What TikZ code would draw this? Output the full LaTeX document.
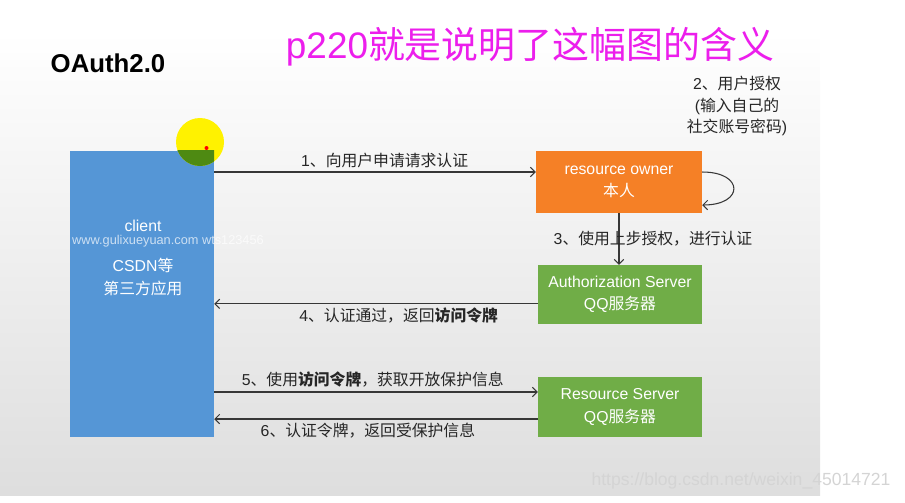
\documentclass[tikz,border=0pt]{standalone}
\usepackage{fontspec}
\setmainfont{Liberation Sans}
\newfontfamily\cjk{Noto Sans CJK SC}
\usetikzlibrary{arrows.meta,positioning}
\definecolor{clientblue}{RGB}{85,150,214}
\definecolor{ownerorange}{RGB}{245,128,38}
\definecolor{servergreen}{RGB}{112,173,71}
\definecolor{hintpink}{RGB}{236,30,236}
\definecolor{arrowgray}{RGB}{55,55,55}
\definecolor{cursorgreen}{RGB}{78,138,18}
\newcommand{\zh}[1]{{\cjk #1}}

\begin{document}
\begin{tikzpicture}[x=0.03cm,y=-0.03cm,
 box/.style={text=white,align=center,font=\fontsize{13.5}{19}\selectfont},
 lbl/.style={text=black!85,align=center,font=\fontsize{13.5}{19}\selectfont},
 arr/.style={draw=arrowgray,line width=0.9pt,->},
 >={Straight Barb[length=4pt,width=8pt]}]
\useasboundingbox (0,0) rectangle (905,502);
\fill[top color=white,bottom color=black!13] (0,32) rectangle (820,495);

\node[font=\bfseries\fontsize{22}{26}\selectfont] (title) at (108,63) {OAuth2.0};
\node[text=hintpink,font=\fontsize{31.5}{36}\selectfont] (hint) at (530,47)
 {p220\zh{就是说明了这幅图的含义}};

% boxes
\node[box,fill=clientblue,minimum width=4.32cm,minimum height=8.58cm] (client) at (142,294) {};
\node[box] (clientname) at (143,226) {client};
\node[box] (clientinfo) at (143,277) {CSDN\zh{等}\\\zh{第三方应用}};
\node[text=white,opacity=0.7,font=\fontsize{10.9}{13}\selectfont] (mark) at (168,241)
 {www.gulixueyuan.com wts123456};
\node[box,fill=ownerorange,minimum width=4.98cm,minimum height=1.86cm] (owner) at (619,182)
 {resource owner\\\zh{本人}};
\node[box,fill=servergreen,minimum width=4.92cm,minimum height=1.77cm] (auth) at (620,294.5)
 {Authorization Server\\QQ\zh{服务器}};
\node[box,fill=servergreen,minimum width=4.92cm,minimum height=1.8cm] (res) at (620,407)
 {Resource Server\\QQ\zh{服务器}};

% cursor highlight
\fill[yellow] (200,142) circle (24);
\begin{scope}
 \clip (client.north west) rectangle (client.south east);
 \fill[cursorgreen] (200,142) circle (24);
\end{scope}
\fill[red] (206.5,148) circle (2);

% connectors
\coordinate (o1) at ([yshift=0.3cm]owner.west);
\coordinate (o2a) at ([yshift=0.3cm]owner.east);
\coordinate (o2b) at ([yshift=-0.69cm]owner.east);
\coordinate (a4) at ([yshift=-0.28cm]auth.west);
\coordinate (r5) at ([yshift=0.45cm]res.west);
\coordinate (r6) at ([yshift=-0.36cm]res.west);
\draw[arr] (client.east |- o1) -- node[lbl,above,pos=0.53] (l1) {1\zh{、向用户申请请求认证}} (o1);
\draw[arr] (o2a) .. controls +(42,0) and +(42,0) .. (o2b);
\node[lbl,font=\fontsize{13.5}{18.5}\selectfont] (l2) at (737,106)
 {2\zh{、用户授权}\\ (\zh{输入自己的}\\\zh{社交账号密码})};
\draw[arr] (owner.south) -- node[lbl,xshift=1.02cm] (l3) {3\zh{、使用上步授权，进行认证}} (owner.south |- auth.north);
\draw[arr] (a4) -- node[lbl,below,pos=0.43] (l4) {4\zh{、认证通过，返回\textbf{访问令牌}}} (client.east |- a4);
\draw[arr] (client.east |- r5) -- node[lbl,above,pos=0.49] (l5) {5\zh{、使用\textbf{访问令牌}，获取开放保护信息}} (r5);
\draw[arr] (r6) -- node[lbl,below,pos=0.525] (l6) {6\zh{、认证令牌，返回受保护信息}} (client.east |- r6);

\node[text=black!17,font=\fontsize{15}{18}\selectfont] (csdn) at (741,481)
 {https://blog.csdn.net/weixin\_45014721};
\end{tikzpicture}
\end{document}
